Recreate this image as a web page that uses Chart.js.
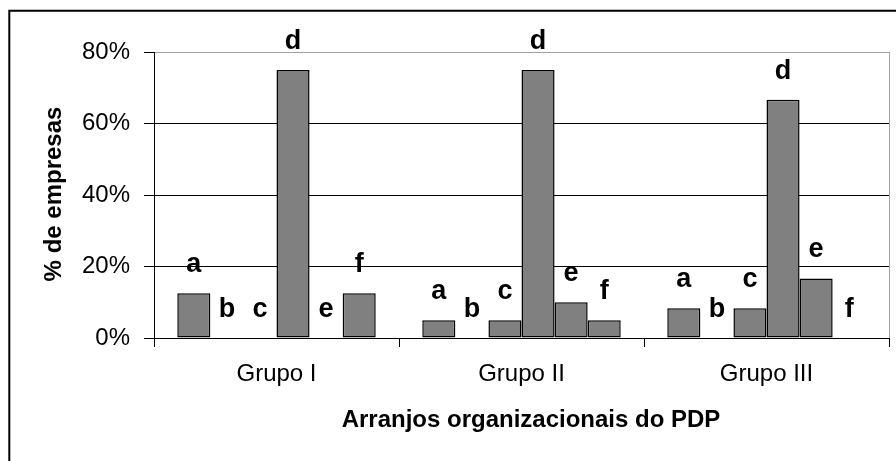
<!DOCTYPE html>
<html>
<head>
<meta charset="utf-8">
<script src="https://cdn.jsdelivr.net/npm/chart.js@4.4.0/dist/chart.umd.min.js"></script>
<style>
html,body{margin:0;padding:0;background:#fff;}
#wrap{width:896px;height:461px;position:relative;}
</style>
</head>
<body>
<div id="wrap"><canvas id="c" width="896" height="461"></canvas></div>
<script>
// ---- data ----
const categories = ['Grupo I', 'Grupo II', 'Grupo III'];
const seriesNames = ['a', 'b', 'c', 'd', 'e', 'f'];
const seriesA = [12.5, 5, 8.33];
const seriesB = [0, 0, 0];
const seriesC = [0, 5, 8.33];
const seriesD = [75, 75, 66.67];
const seriesE = [0, 10, 16.67];
const seriesF = [12.5, 5, 0];
const yTicks = [0, 20, 40, 60, 80];
const yTitle = '% de empresas';
const xTitle = 'Arranjos organizacionais do PDP';

const allSeries = [seriesA, seriesB, seriesC, seriesD, seriesE, seriesF];
const FONT = '"Liberation Sans", Arial, sans-serif';

const datasets = allSeries.map((vals, i) => ({
  label: seriesNames[i],
  data: vals,
  backgroundColor: '#808080',
  borderColor: '#000000',
  borderWidth: (ctx) => (ctx.raw === 0 ? 0 : 1.5),
  borderSkipped: false,
  categoryPercentage: 0.81,
  barPercentage: 1.0
}));

const decorPlugin = {
  id: 'decor',
  beforeDraw(chart) {
    const ctx = chart.ctx;
    ctx.save();
    ctx.fillStyle = '#ffffff';
    ctx.fillRect(0, 0, chart.width, chart.height);
    ctx.restore();
  },
  afterDraw(chart) {
    const ctx = chart.ctx;
    const area = chart.chartArea;
    ctx.save();
    // right border of plot area (grey)
    ctx.strokeStyle = '#a0a0a0';
    ctx.lineWidth = 1;
    ctx.beginPath();
    ctx.moveTo(Math.round(area.right) + 0.5, area.top);
    ctx.lineTo(Math.round(area.right) + 0.5, area.bottom);
    ctx.stroke();
    // outer frame
    ctx.strokeStyle = '#000000';
    ctx.lineWidth = 2;
    ctx.beginPath();
    ctx.moveTo(9.3, 470);
    ctx.lineTo(9.3, 10.7);
    ctx.lineTo(900, 10.7);
    ctx.stroke();
    // letter labels above bars
    ctx.fillStyle = '#000000';
    ctx.font = 'bold 27px ' + FONT;
    ctx.textAlign = 'center';
    ctx.textBaseline = 'alphabetic';
    chart.data.datasets.forEach((ds, i) => {
      const meta = chart.getDatasetMeta(i);
      meta.data.forEach((bar) => {
        ctx.fillText(ds.label, bar.x, bar.y - 21);
      });
    });
    // y title
    ctx.font = 'bold 24px ' + FONT;
    ctx.save();
    ctx.translate(61, 194);
    ctx.rotate(-Math.PI / 2);
    ctx.textAlign = 'center';
    ctx.textBaseline = 'alphabetic';
    ctx.fillText(yTitle, 0, 0);
    ctx.restore();
    // x title
    ctx.textAlign = 'center';
    ctx.textBaseline = 'alphabetic';
    ctx.fillText(xTitle, 531, 427);
    ctx.restore();
  }
};

new Chart(document.getElementById('c'), {
  type: 'bar',
  data: { labels: categories, datasets },
  options: {
    responsive: false,
    animation: false,
    devicePixelRatio: 1,
    layout: { padding: { left: 0, top: 52, right: 7, bottom: 0 } },
    plugins: { legend: { display: false }, tooltip: { enabled: false } },
    scales: {
      x: {
        offset: true,
        grid: { offset: true, drawOnChartArea: false, tickLength: 9, color: '#000', lineWidth: 1 },
        border: { display: true, color: '#000', width: 1 },
        ticks: { color: '#000', font: { family: FONT, size: 24 }, padding: 13, maxRotation: 0 },
        afterFit(scale) { scale.height = 123; }
      },
      y: {
        min: 0,
        max: 80,
        afterBuildTicks(scale) { scale.ticks = yTicks.map(v => ({ value: v })); },
        grid: {
          color: (c) => (c.tick && c.tick.value === 80 ? '#a0a0a0' : '#000000'),
          tickColor: '#000000',
          tickLength: 10,
          lineWidth: 1
        },
        border: { display: true, color: '#000', width: 1 },
        ticks: {
          color: '#000',
          font: { family: FONT, size: 24 },
          padding: 14,
          callback: (v) => v + '%'
        },
        afterFit(scale) { scale.width = 154; }
      }
    }
  },
  plugins: [decorPlugin]
});
</script>
</body>
</html>
